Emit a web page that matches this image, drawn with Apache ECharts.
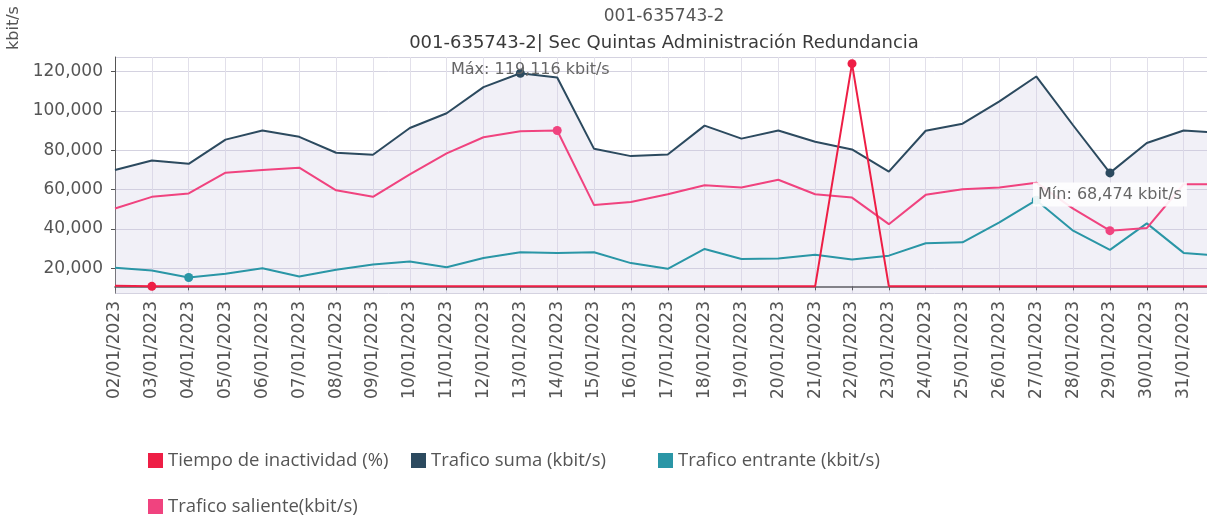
<!DOCTYPE html>
<html>
<head>
<meta charset="utf-8">
<title>001-635743-2</title>
<script src="https://cdn.jsdelivr.net/npm/echarts@6/dist/echarts.min.js"></script>
<style>
    html, body { margin: 0; padding: 0; background: #fff; }
    #main { width: 1207px; height: 521px; }
</style>
</head>
<body>
<div id="main"></div>
<script>
// datos (el ultimo dia queda cortado por el borde)
var dias = ['02/01/2023', '03/01/2023', '04/01/2023', '05/01/2023', '06/01/2023', '07/01/2023',
    '08/01/2023', '09/01/2023', '10/01/2023', '11/01/2023', '12/01/2023', '13/01/2023',
    '14/01/2023', '15/01/2023', '16/01/2023', '17/01/2023', '18/01/2023', '19/01/2023',
    '20/01/2023', '21/01/2023', '22/01/2023', '23/01/2023', '24/01/2023', '25/01/2023',
    '26/01/2023', '27/01/2023', '28/01/2023', '29/01/2023', '30/01/2023', '31/01/2023',
    '01/02/2023'];

var tiempoInactividad = [0.3, 0, 0, 0, 0, 0, 0, 0, 0, 0, 0, 0, 0, 0, 0, 0, 0, 0, 0, 0,
    100, 0, 0, 0, 0, 0, 0, 0, 0, 0, 0];

var traficoSuma = [69900, 74800, 73100, 85400, 90000, 86800, 78700, 77700, 91300, 98800,
    112100, 119116, 117000, 80700, 77000, 77800, 92500, 85900, 90000, 84300,
    80400, 69100, 89900, 93500, 104800, 117500, 92700, 68474, 83700, 90000, 88800];

var traficoEntrante = [20200, 18800, 15300, 17200, 20000, 15800, 19200, 21900, 23400, 20500,
    25200, 28100, 27800, 28100, 22600, 19700, 29800, 24700, 24900, 26800,
    24400, 26400, 32700, 33200, 43300, 54600, 39100, 29300, 42800, 27800, 26300];

var traficoSaliente = [50400, 56300, 58000, 68600, 69900, 71100, 59600, 56300, 67700, 78400,
    86600, 89700, 90000, 52100, 53700, 57600, 62200, 61000, 65000, 57600,
    55900, 42400, 57300, 60100, 61000, 63500, 50300, 39100, 40400, 62700, 62700];

var nombres = ['Tiempo de inactividad (%)', 'Trafico suma (kbit/s)',
    'Trafico entrante (kbit/s)', 'Trafico saliente(kbit/s)'];
var colores = ['#ee1e45', '#2c4a5f', '#2a96a6', '#f0437f'];

var fuente = 'DejaVu Sans, Verdana, sans-serif';

function formatoMiles(v) {
    return Math.round(v).toLocaleString('en-US');
}

function puntosMinMax(color, conTexto) {
    return {
        symbol: 'circle',
        symbolSize: 9,
        itemStyle: { color: color },
        label: { show: false },
        data: [
            {
                type: 'max', name: 'Máx',
                label: {
                    show: conTexto,
                    position: 'inside',
                    offset: [10, -3],
                    color: '#666',
                    fontSize: 16,
                    fontFamily: fuente,
                    formatter: function (p) { return 'Máx: ' + formatoMiles(p.value) + ' kbit/s'; }
                }
            },
            {
                type: 'min', name: 'Mín',
                label: {
                    show: conTexto,
                    position: 'bottom',
                    distance: 5,
                    color: '#666',
                    fontSize: 16,
                    fontFamily: fuente,
                    backgroundColor: 'rgba(255,255,255,0.9)',
                    padding: [4, 5],
                    formatter: function (p) { return 'Mín: ' + formatoMiles(p.value) + ' kbit/s'; }
                }
            }
        ]
    };
}

function leyenda(i, left, top) {
    return {
        data: [nombres[i]],
        left: left,
        top: top,
        padding: 0,
        icon: 'rect',
        itemWidth: 15,
        itemHeight: 15,
        textStyle: { color: '#555', fontSize: 18.5, fontFamily: 'Open Sans, sans-serif' }
    };
}

var myChart = echarts.init(document.getElementById('main'));

var option = {
    animation: false,
    color: colores,
    title: [
        {
            text: '001-635743-2',
            left: 664, top: 8, padding: 0, textAlign: 'center',
            textStyle: { color: '#555', fontSize: 17, fontWeight: 'normal', fontFamily: fuente }
        },
        {
            text: '001-635743-2| Sec Quintas Administración Redundancia',
            left: 664, top: 34, padding: 0, textAlign: 'center',
            textStyle: { color: '#3a3a3a', fontSize: 18, fontWeight: 'normal', fontFamily: fuente }
        }
    ],
    graphic: [{
        type: 'text',
        x: 14, y: 28,
        rotation: Math.PI / 2,
        style: {
            text: 'kbit/s',
            fill: '#555',
            font: '16px ' + fuente,
            textAlign: 'center',
            textVerticalAlign: 'middle'
        }
    }],
    legend: [
        leyenda(0, 148, 451),
        leyenda(1, 411, 451),
        leyenda(2, 658, 451),
        leyenda(3, 148, 497)
    ],
    grid: {
        left: 115,
        right: -13.5,
        top: 57,
        bottom: 228,
        outerBoundsMode: 'none'
    },
    xAxis: {
        type: 'category',
        data: dias,
        boundaryGap: false,
        axisLine: { lineStyle: { color: '#333', width: 1.5 } },
        axisTick: { show: true, interval: 0, length: 4, lineStyle: { color: '#333' } },
        axisLabel: {
            interval: 0,
            rotate: 90,
            margin: 8,
            color: '#555',
            fontSize: 17,
            fontFamily: fuente
        },
        splitLine: { show: true, interval: 0, lineStyle: { color: '#e2e0ea' } }
    },
    yAxis: [
        {
            type: 'value',
            min: 7400,
            max: 127400,
            axisLine: { show: true, lineStyle: { color: '#555' } },
            axisTick: { show: true, length: 4 },
            axisLabel: {
                showMinLabel: false,
                showMaxLabel: false,
                margin: 12,
                padding: [10, 0, 0, 0],
                color: '#555',
                fontSize: 17,
                fontFamily: fuente,
                formatter: formatoMiles
            },
            splitLine: { show: true, lineStyle: { color: '#d4d2e0' } }
        },
        {
            // eje del porcentaje de inactividad, oculto
            type: 'value',
            min: -3,
            max: 103,
            show: false,
            splitLine: { show: false }
        }
    ],
    series: [
        {
            name: nombres[1],
            type: 'line',
            data: traficoSuma,
            showSymbol: false,
            lineStyle: { color: colores[1], width: 2 },
            itemStyle: { color: colores[1] },
            areaStyle: { color: 'rgba(204,202,226,0.4)' },
            markPoint: puntosMinMax(colores[1], true)
        },
        {
            name: nombres[2],
            type: 'line',
            data: traficoEntrante,
            showSymbol: false,
            lineStyle: { color: colores[2], width: 2 },
            itemStyle: { color: colores[2] },
            markPoint: puntosMinMax(colores[2], false)
        },
        {
            name: nombres[3],
            type: 'line',
            data: traficoSaliente,
            showSymbol: false,
            lineStyle: { color: colores[3], width: 2 },
            itemStyle: { color: colores[3] },
            markPoint: puntosMinMax(colores[3], false)
        },
        {
            name: nombres[0],
            type: 'line',
            yAxisIndex: 1,
            data: tiempoInactividad,
            showSymbol: false,
            lineStyle: { color: colores[0], width: 2 },
            itemStyle: { color: colores[0] },
            markPoint: puntosMinMax(colores[0], false)
        }
    ]
};

myChart.setOption(option);
</script>
</body>
</html>
